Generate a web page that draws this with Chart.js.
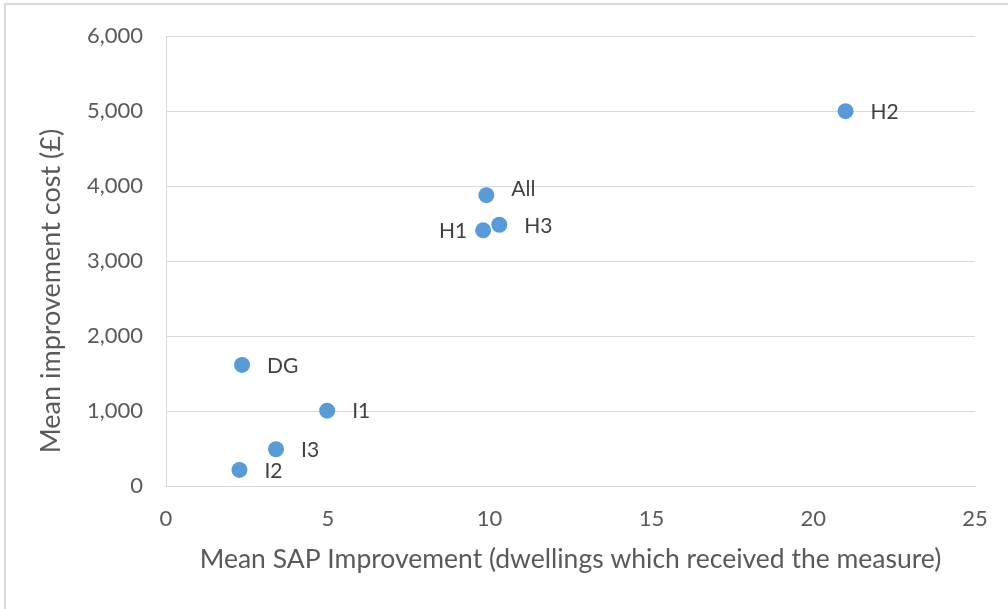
<!DOCTYPE html>
<html>
<head>
<meta charset="utf-8">
<script src="https://cdn.jsdelivr.net/npm/chart.js@4/dist/chart.umd.min.js"></script>
<style>
    html, body { margin: 0; padding: 0; background: #fff; }
    #wrap { position: relative; width: 1008px; height: 609px; }
    #frame { position: absolute; left: 4px; top: 3px; right: -10px; bottom: -10px; border: 2px solid #d9d9d9; pointer-events: none; }
</style>
</head>
<body>
<div id="wrap">
    <canvas id="chart" width="1008" height="609"></canvas>
    <div id="frame"></div>
</div>
<script>
const measures = ['H2', 'All', 'H3', 'H1', 'DG', 'I1', 'I3', 'I2'];
const sapImprovement = [21.0, 9.9, 10.3, 9.8, 2.35, 4.98, 3.4, 2.27];
const improvementCost = [5000, 3880, 3485, 3410, 1615, 1005, 490, 215];

const xTitle = 'Mean SAP Improvement (dwellings which received the measure)';
const yTitle = 'Mean improvement cost (£)';

const FONT = 'Lato, "Open Sans", sans-serif';
const TICK_COLOR = '#595959';
const GRID_COLOR = '#d9d9d9';

// labels beside each point, H1 sits on the left, All nudged up a bit
const pointLabels = {
    id: 'pointLabels',
    afterDatasetsDraw(chart) {
        const ctx = chart.ctx;
        const meta = chart.getDatasetMeta(0);
        ctx.save();
        ctx.font = '21px ' + FONT;
        ctx.fillStyle = '#404040';
        ctx.textBaseline = 'middle';
        meta.data.forEach((pt, i) => {
            const name = measures[i];
            const dy = name === 'All' ? -6 : 1;
            if (name === 'H1') {
                ctx.textAlign = 'right';
                ctx.fillText(name, pt.x - 16, pt.y + dy);
            } else {
                ctx.textAlign = 'left';
                ctx.fillText(name, pt.x + 25, pt.y + dy);
            }
        });
        ctx.restore();
    }
};

// y title drawn by hand, Excel puts it a little below the middle
const yAxisTitle = {
    id: 'yAxisTitle',
    afterDraw(chart) {
        const ctx = chart.ctx;
        const area = chart.chartArea;
        ctx.save();
        ctx.font = '27px ' + FONT;
        ctx.fillStyle = TICK_COLOR;
        ctx.textAlign = 'center';
        ctx.textBaseline = 'alphabetic';
        ctx.translate(60, (area.top + area.bottom) / 2 + 30);
        ctx.rotate(-Math.PI / 2);
        ctx.fillText(yTitle, 0, 0);
        ctx.restore();
    }
};

new Chart(document.getElementById('chart'), {
    type: 'scatter',
    data: {
        datasets: [{
            label: 'Measures',
            data: sapImprovement.map((x, i) => ({ x: x, y: improvementCost[i] })),
            backgroundColor: '#5b9bd5',
            borderColor: '#5b9bd5',
            pointRadius: 8,
            pointHoverRadius: 8,
            borderWidth: 0
        }]
    },
    options: {
        responsive: false,
        animation: false,
        locale: 'en-US',
        layout: { padding: { top: 34, right: 33, left: 0, bottom: 0 } },
        plugins: {
            legend: { display: false },
            tooltip: { enabled: false }
        },
        scales: {
            x: {
                type: 'linear',
                min: 0,
                max: 25,
                ticks: { stepSize: 5, color: TICK_COLOR, font: { family: FONT, size: 22 }, padding: 20, maxRotation: 0 },
                grid: { display: false, drawTicks: false },
                border: { display: true, color: GRID_COLOR, width: 1 },
                title: {
                    display: true,
                    text: xTitle,
                    color: TICK_COLOR,
                    font: { family: FONT, size: 26.5 },
                    padding: { top: 0, bottom: 34 }
                },
                afterFit(scale) { scale.height = 123; }
            },
            y: {
                type: 'linear',
                min: 0,
                max: 6000,
                ticks: { stepSize: 1000, color: TICK_COLOR, font: { family: FONT, size: 22 }, padding: 23 },
                grid: { color: GRID_COLOR, lineWidth: 1, drawTicks: false },
                border: { display: true, color: GRID_COLOR, width: 1 },
                afterFit(scale) { scale.width = 166; }
            }
        }
    },
    plugins: [pointLabels, yAxisTitle]
});
</script>
</body>
</html>
